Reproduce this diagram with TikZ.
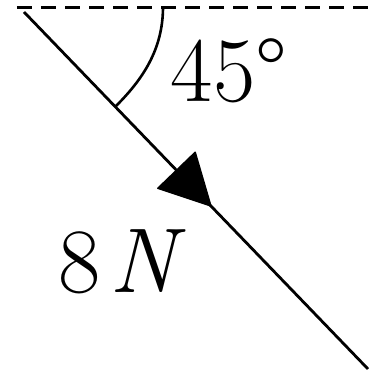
\documentclass[tikz,border=0pt]{standalone}
\usetikzlibrary{arrows.meta,decorations.markings}
\begin{document}
\begin{tikzpicture}[x=1pt,y=-1pt,
  force/.style={line width=2.8pt,
    postaction={decorate,decoration={markings,
      mark=at position 0.545 with {\arrow[line width=1.5pt,line join=round]{Triangle[length=52pt,width=54pt,round]}}}}},
  refline/.style={line width=3pt,dash pattern=on 15pt off 9pt},
  lbl/.style={inner sep=0pt,font=\fontsize{92}{92}\selectfont}]
\useasboundingbox (0,0) rectangle (375,376);
\coordinate (L) at (17,7);
\coordinate (R) at (375,7);
\coordinate (A) at (24,12);
\coordinate (B) at (368,369);
\coordinate (P) at (163,7);
\coordinate (Q) at (116,106);
\draw[refline] (L) -- (R);
\draw[force] (A) -- (B);
\draw[line width=2.6pt] (P) .. controls (163,50) and (142,80) .. (Q);
\node[lbl] (ang) at (229,71) {45\textdegree};
\node[lbl] (mag) at (122,262) {8\kern0.1em\textit{N}};
\end{tikzpicture}
\end{document}
